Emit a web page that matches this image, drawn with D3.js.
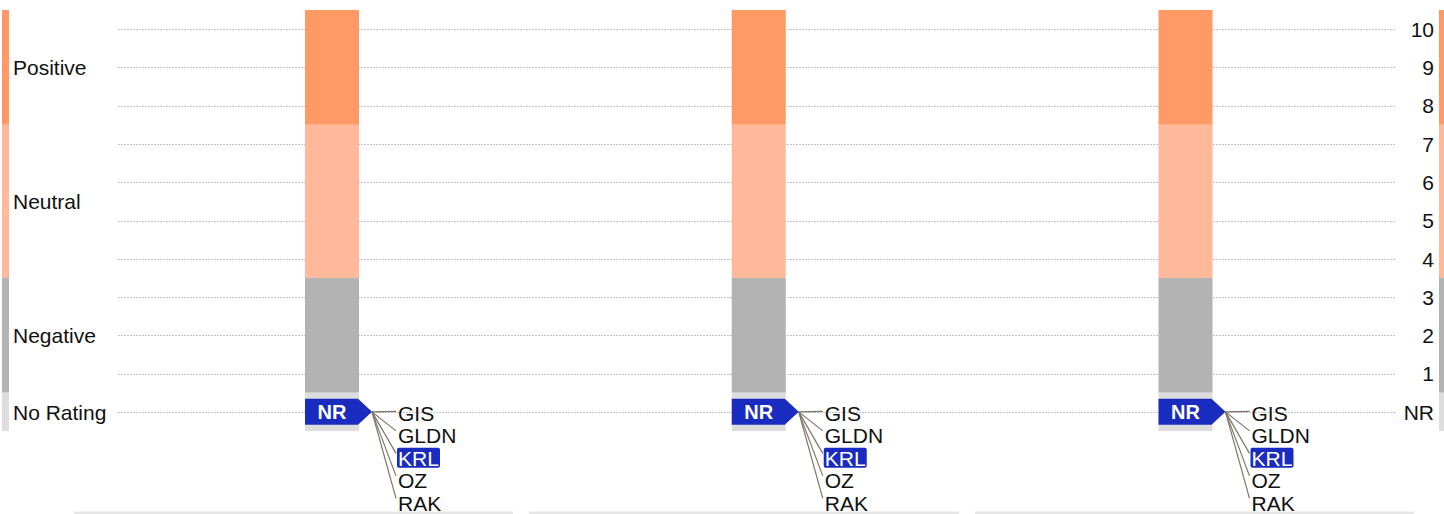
<!DOCTYPE html>
<html>
<head>
<meta charset="utf-8">
<script src="https://cdn.jsdelivr.net/npm/d3@7/dist/d3.min.js"></script>
<style>
  html, body { margin: 0; padding: 0; background: #fff; }
  svg { display: block; font-family: "Liberation Sans", Arial, sans-serif; }
</style>
</head>
<body>
<svg id="chart" width="1444" height="514"></svg>
<script>
// ---- data ----
const columns = ["Column 1", "Column 2", "Column 3"];
const ratingTicks = [0, 1, 2, 3, 4, 5, 6, 7, 8, 9, 10];
const ratingTickLabels = ["NR", "1", "2", "3", "4", "5", "6", "7", "8", "9", "10"];
const bandNames = ["Positive", "Neutral", "Negative", "No Rating"];
const bandLow = [7.5, 3.5, 0.5, -0.5];
const bandHigh = [10.5, 7.5, 3.5, 0.5];
const bandColors = ["#FF9966", "#FFB899", "#B3B3B3", "#DDDDDD"];
const nrCompanies = ["GIS", "GLDN", "KRL", "OZ", "RAK"];
const highlighted = "KRL";
const nrValue = 0;

// ---- layout ----
const svg = d3.select("#chart");
const y = d3.scaleLinear().domain([-0.5, 10.5]).range([431, 10]);
const x = d3.scalePoint().domain(columns).range([332, 1185.5]);
const barW = 54;
const gridX0 = 118, gridX1 = 1395;
const panelRanges = [[74, 513], [529, 959], [975, 1414]];
const fs = 21;

const bands = bandNames.map((n, i) => ({ name: n, lo: bandLow[i], hi: bandHigh[i], color: bandColors[i] }));

// gridlines
svg.append("g").selectAll("line").data(ratingTicks).join("line")
  .attr("x1", gridX0).attr("x2", gridX1)
  .attr("y1", d => Math.round(y(d)) + 0.5).attr("y2", d => Math.round(y(d)) + 0.5)
  .attr("stroke", "#c4c4c4").attr("stroke-width", 1).attr("stroke-dasharray", "2,1");

// right axis labels
const yAxis = d3.axisRight(y).tickValues(ratingTicks)
  .tickFormat((d, i) => ratingTickLabels[i]).tickSize(0).tickPadding(0);
const ax = svg.append("g").attr("transform", `translate(1434,0.5)`).call(yAxis);
ax.select(".domain").remove();
ax.selectAll("text").attr("text-anchor", "end").attr("x", 0)
  .attr("font-size", fs).attr("fill", "#111")
  .attr("font-family", "'Liberation Sans', Arial, sans-serif");

// side legend bars
[[2, 7], [1439, 6]].forEach(([bx, bw]) => {
  svg.append("g").selectAll("rect").data(bands).join("rect")
    .attr("x", bx).attr("width", bw)
    .attr("y", d => y(d.hi)).attr("height", d => y(d.lo) - y(d.hi))
    .attr("fill", d => d.color);
});

// left band labels
svg.append("g").selectAll("text").data(bands).join("text")
  .attr("x", 13).attr("y", d => y((d.lo + d.hi) / 2) + 0.5).attr("dy", "0.35em")
  .attr("font-size", fs).attr("fill", "#111").text(d => d.name);

// column bars
const col = svg.append("g").selectAll("g").data(columns).join("g")
  .attr("transform", d => `translate(${x(d)},0)`);

col.selectAll("rect.band").data(bands).join("rect").attr("class", "band")
  .attr("x", -27).attr("width", barW)
  .attr("y", d => y(d.hi)).attr("height", d => y(d.lo) - y(d.hi))
  .attr("fill", d => d.color);

// NR marker
const yNR = y(nrValue);
const labelY0 = yNR + 1.5, labelStep = 22.5, labelX = 66;
col.each(function () {
  const g = d3.select(this);
  const tipX = 40;
  g.selectAll("line.conn").data(nrCompanies).join("line").attr("class", "conn")
    .attr("x1", tipX).attr("y1", yNR)
    .attr("x2", labelX - 2).attr("y2", (d, i) => labelY0 + i * labelStep - (i === 0 ? 2 : 5))
    .attr("stroke", "#7d7468").attr("stroke-width", 1.2);
  g.append("path")
    .attr("d", `M-27,${yNR - 13}H26L${tipX},${yNR}L26,${yNR + 13}H-27Z`)
    .attr("fill", "#1A2BBF");
  g.append("text").attr("x", 0).attr("y", yNR).attr("dy", "0.36em")
    .attr("text-anchor", "middle").attr("font-size", 20).attr("font-weight", "bold")
    .attr("fill", "#fff").text("NR");
  g.selectAll("rect.hl").data(nrCompanies.filter(c => c === highlighted)).join("rect").attr("class", "hl")
    .attr("x", labelX - 1).attr("width", 43)
    .attr("y", d => labelY0 + nrCompanies.indexOf(d) * labelStep - 10.5).attr("height", 20)
    .attr("rx", 2).attr("fill", "#1A2BBF");
  g.selectAll("text.co").data(nrCompanies).join("text").attr("class", "co")
    .attr("x", labelX).attr("y", (d, i) => labelY0 + i * labelStep).attr("dy", "0.35em")
    .attr("font-size", fs)
    .attr("fill", d => d === highlighted ? "#fff" : "#111").text(d => d);
});

// bottom panel lines
svg.append("g").selectAll("rect").data(panelRanges).join("rect")
  .attr("x", d => d[0]).attr("width", d => d[1] - d[0])
  .attr("y", 511.5).attr("height", 2.5).attr("fill", "#e6e6e6");
</script>
</body>
</html>
